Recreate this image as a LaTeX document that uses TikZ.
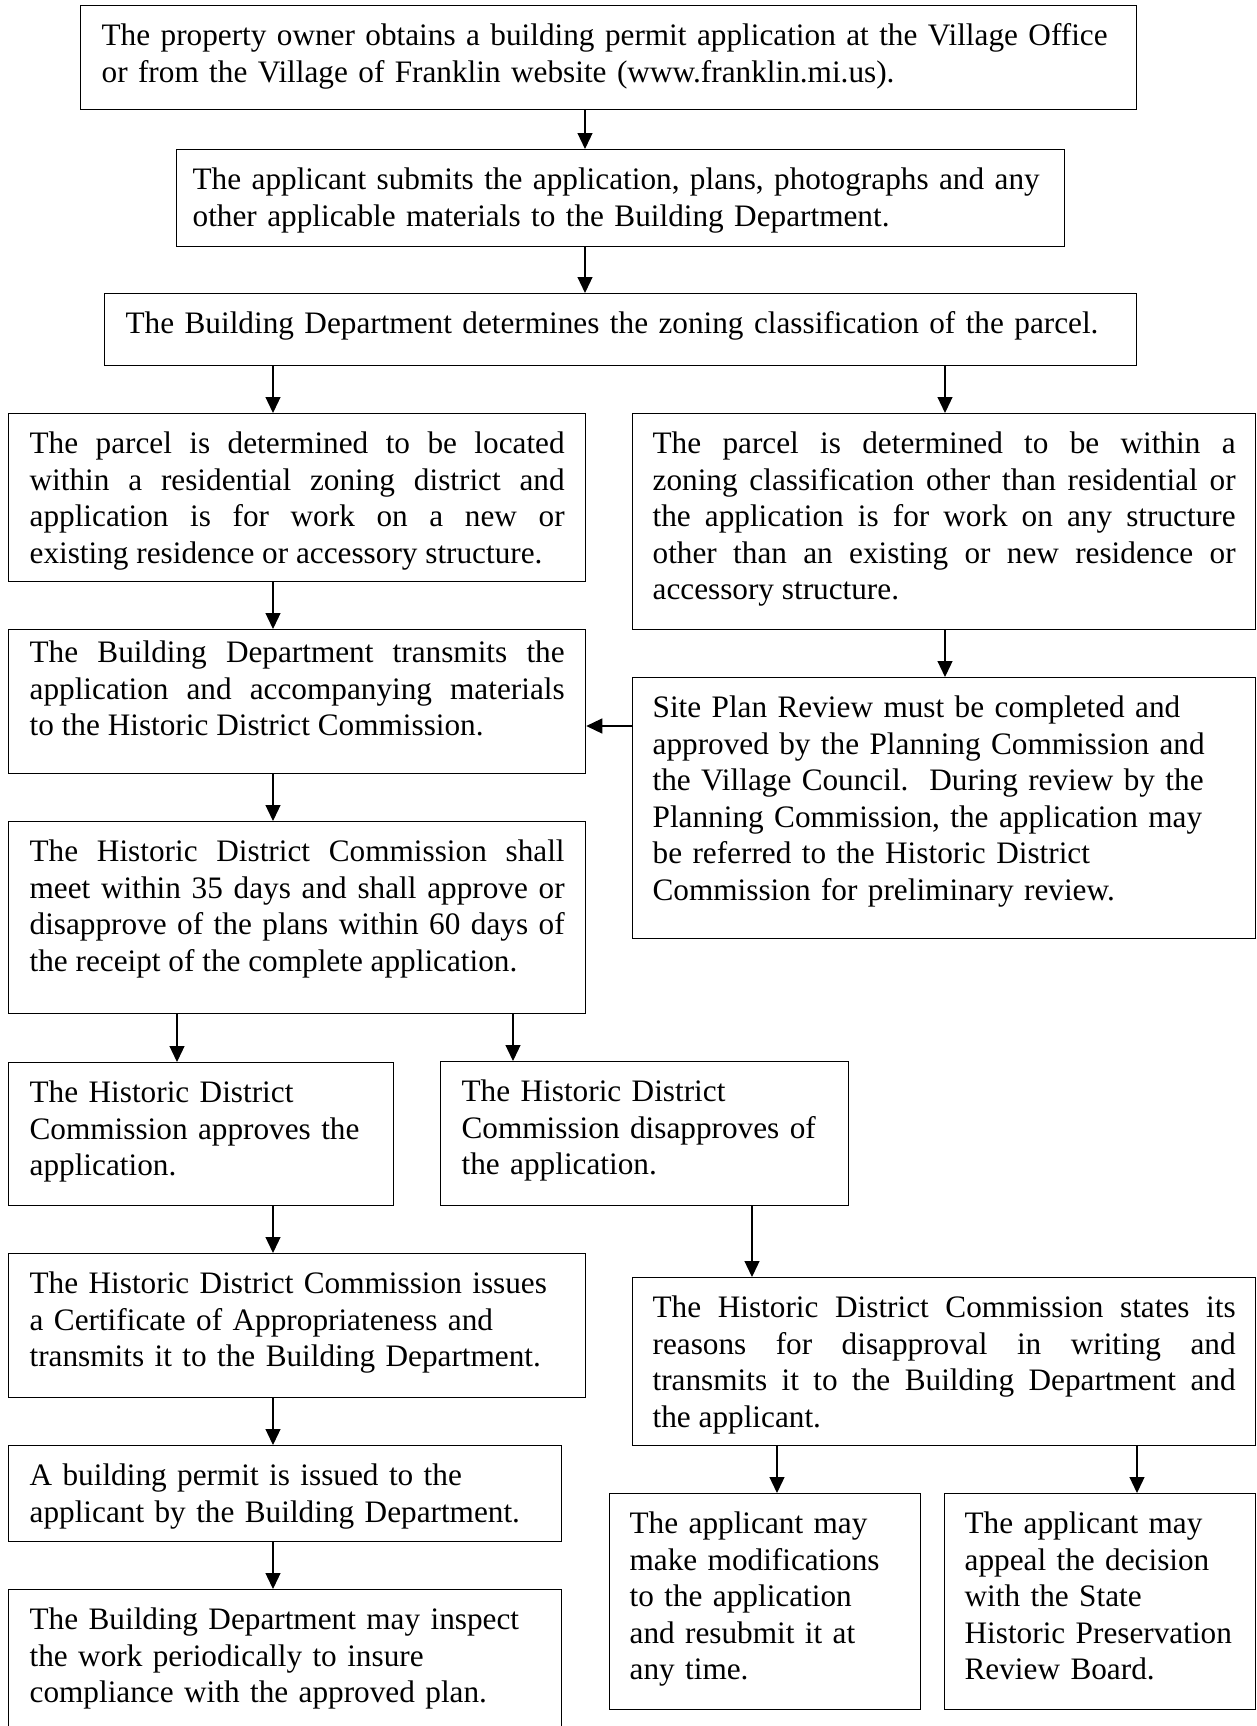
\documentclass[tikz,border=0pt]{standalone}
\usepackage{fontspec}
\setmainfont{Liberation Serif}
\usetikzlibrary{arrows.meta}

\begin{document}
\begin{tikzpicture}[x=0.4pt, y=-0.4pt,
    stage/.style={draw, line width=0.5pt, anchor=north west, inner xsep=8.4pt, inner ysep=0pt,
                  text height=16pt, align=left, font=\fontsize{12.5}{14.6}\selectfont},
    flow/.style={-{Triangle[length=6.4pt,width=6pt]}, line width=0.5pt}]
    \useasboundingbox (0,0) rectangle (1256,1726);
    % top row
    \node[stage, text width=405.6pt, text depth=25.6pt] (owner) at (80,5)
        {The property owner obtains a building permit application at the Village Office\\ or from the Village of Franklin website (www.franklin.mi.us).};
    \node[stage, inner xsep=6.4pt, text width=342.4pt, text depth=22.8pt] (submit) at (176,149)
        {The applicant submits the application, plans, photographs and any\\ other applicable materials to the Building Department.};
    \node[stage, text width=396pt, text depth=12.8pt] (zoning) at (104,293)
        {The Building Department determines the zoning classification of the parcel.};
    % left column
    \node[stage, align=justify, text width=214pt, text depth=51.2pt] (resid) at (8,413)
        {The parcel is determined to be located\linebreak within a residential zoning district and\linebreak application is for work on a new or\linebreak existing residence or accessory structure.};
    \node[stage, align=justify, text width=214pt, text height=13.2pt, text depth=44.4pt] (transmit) at (8,629)
        {The Building Department transmits the\linebreak application and accompanying materials\linebreak to the Historic District Commission.};
    \node[stage, align=justify, text width=214pt, text depth=60.8pt] (meet) at (8,821)
        {The Historic District Commission shall\linebreak meet within 35 days and shall approve or\linebreak disapprove of the plans within 60 days of\linebreak the receipt of the complete application.};
    \node[stage, text width=137.2pt, text depth=41.2pt] (approve) at (8,1062)
        {The Historic District\\ Commission approves the\\ application.};
    \node[stage, text width=146.4pt, text depth=41.6pt] (disapprove) at (440,1061)
        {The Historic District\\ Commission disapproves of\\ the application.};
    \node[stage, text width=214pt, text depth=41.6pt] (certif) at (8,1253)
        {The Historic District Commission issues\\ a Certificate of Appropriateness and\\ transmits it to the Building Department.};
    \node[stage, text width=204.4pt, text depth=22.4pt] (permit) at (8,1445)
        {A building permit is issued to the\\ applicant by the Building Department.};
    \node[stage, text width=204.4pt, text depth=40.4pt] (inspect) at (8,1589)
        {The Building Department may inspect\\ the work periodically to insure\\ compliance with the approved plan.};
    % right column
    \node[stage, align=justify, inner xsep=8pt, text width=233.2pt, text depth=70.4pt] (other) at (632,413)
        {The parcel is determined to be within a\linebreak zoning classification other than residential or\linebreak the application is for work on any structure\linebreak other than an existing or new residence or\linebreak accessory structure.};
    \node[stage, inner xsep=8pt, text width=233.2pt, text depth=88.4pt] (siteplan) at (632,677)
        {Site Plan Review must be completed and\\ approved by the Planning Commission and\\ the Village Council.\ \ During review by the\\ Planning Commission, the application may\\ be referred to the Historic District\\ Commission for preliminary review.};
    \node[stage, align=justify, inner xsep=8pt, text width=233.2pt, text depth=51.2pt] (reasons) at (632,1277)
        {The Historic District Commission states its\linebreak reasons for disapproval in writing and\linebreak transmits it to the Building Department and\linebreak the applicant.};
    \node[stage, inner xsep=8pt, text width=108.4pt, text depth=70.4pt] (modify) at (609,1493)
        {The applicant may\\ make modifications\\ to the application\\ and resubmit it at\\ any time.};
    \node[stage, inner xsep=8pt, text width=108.4pt, text depth=70.4pt] (appeal) at (944,1493)
        {The applicant may\\ appeal the decision\\ with the State\\ Historic Preservation\\ Review Board.};
    % arrows
    \draw[flow] (owner.south -| 585,0) -- (submit.north -| 585,0);
    \draw[flow] (submit.south -| 585,0) -- (zoning.north -| 585,0);
    \draw[flow] (zoning.south -| 273,0) -- (resid.north -| 273,0);
    \draw[flow] (zoning.south -| 945,0) -- (other.north -| 945,0);
    \draw[flow] (resid.south -| 273,0) -- (transmit.north -| 273,0);
    \draw[flow] (other.south -| 945,0) -- (siteplan.north -| 945,0);
    \draw[flow] (siteplan.west |- 0,726) -- (transmit.east |- 0,726);
    \draw[flow] (transmit.south -| 273,0) -- (meet.north -| 273,0);
    \draw[flow] (meet.south -| 177,0) -- (approve.north -| 177,0);
    \draw[flow] (meet.south -| 513,0) -- (disapprove.north -| 513,0);
    \draw[flow] (approve.south -| 273,0) -- (certif.north -| 273,0);
    \draw[flow] (disapprove.south -| 752,0) -- (reasons.north -| 752,0);
    \draw[flow] (certif.south -| 273,0) -- (permit.north -| 273,0);
    \draw[flow] (permit.south -| 273,0) -- (inspect.north -| 273,0);
    \draw[flow] (reasons.south -| 777,0) -- (modify.north -| 777,0);
    \draw[flow] (reasons.south -| 1137,0) -- (appeal.north -| 1137,0);
\end{tikzpicture}
\end{document}
